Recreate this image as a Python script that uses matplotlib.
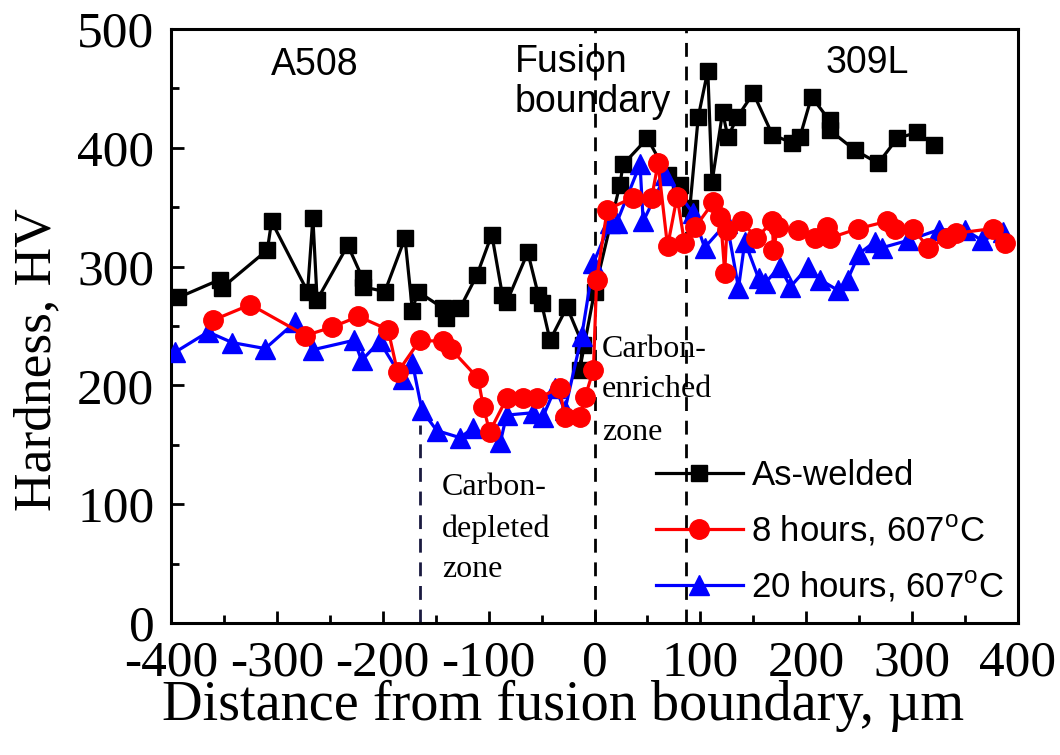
import matplotlib
matplotlib.use("Agg")
import matplotlib.pyplot as plt
from matplotlib.ticker import MultipleLocator

plt.rcParams['axes.unicode_minus'] = False
plt.rcParams['mathtext.fontset'] = 'custom'
plt.rcParams['mathtext.rm'] = 'Liberation Sans'

# ---------------- data ----------------
x_aswelded = [-393, -354, -352, -309, -305, -271, -266, -262, -233, -219, -219, -198,
              -179, -172, -167, -143, -140, -127, -111, -97, -87, -83, -63, -53, -50,
              -42, -26, -11, -14, 0, 24, 27, 50, 69, 81, 90, 98, 107, 111, 121, 126,
              135, 150, 168, 187, 194, 205, 222, 222, 246, 268, 286, 305, 321]
hv_aswelded = [274, 289, 282, 314, 338, 279, 341, 272, 318, 290, 283, 279,
               324, 263, 279, 265, 257, 265, 293, 327, 276, 270, 312, 276, 269,
               238, 266, 234, 213, 279, 369, 386, 408, 377, 369, 349, 426, 465, 371, 430, 409,
               426, 446, 411, 404, 409, 443, 423, 415, 398, 387, 408, 413, 402]

x_8h = [-360, -325, -273, -248, -223, -195, -186, -165, -143, -136, -110, -105, -99,
        -83, -68, -54, -33, -28, -14, -9, -1, 2, 12, 36, 54, 60, 69, 78, 85, 95,
        112, 119, 123, 125, 139, 153, 168, 169, 173, 192, 208, 220, 222, 249, 276,
        284, 301, 315, 333, 341, 376, 388]
hv_8h = [255, 268, 242, 249, 258, 247, 211, 238, 237, 231, 206, 182, 161,
         189, 189, 189, 198, 173, 173, 190, 213, 289, 348, 358, 358, 387, 317, 359, 320, 333,
         354, 342, 295, 331, 338, 324, 338, 314, 333, 331, 324, 333, 324, 332, 338,
         332, 332, 316, 324, 328, 332, 320]

x_20h = [-396, -365, -342, -311, -283, -266, -227, -220, -203, -181, -172, -163, -149,
         -127, -115, -89, -83, -58, -49, -37, -28, -12, -1, 15, 21, 43, 46, 67, 93,
         104, 125, 136, 142, 155, 161, 175, 185, 202, 213, 230, 239, 250, 265, 272,
         296, 325, 350, 366, 386]
hv_20h = [228, 245, 236, 231, 253, 230, 238, 221, 237, 205, 219, 179, 162,
          156, 164, 152, 175, 177, 173, 198, 179, 242, 303, 337, 337, 386, 338, 377, 345,
          316, 337, 282, 321, 290, 286, 300, 283, 300, 289, 280, 289, 311, 321, 316,
          322, 331, 331, 322, 329]

labels = ['As-welded', '8 hours, 607$^{\\rm o}$C', '20 hours, 607$^{\\rm o}$C']
x_ticks = [-400, -300, -200, -100, 0, 100, 200, 300, 400]
y_ticks = [0, 100, 200, 300, 400, 500]

# ---------------- figure ----------------
fig = plt.figure(figsize=(10.6, 7.55), dpi=100)
ax = fig.add_axes([171/1060, 1-623/755, (1018-171)/1060, (623-29)/755])

serif = 'Liberation Serif'
sans = 'Liberation Sans'

l1, = ax.plot(x_aswelded, hv_aswelded, color='black', marker='s', ms=12, lw=2.3,
              label=labels[0], zorder=3)
l3, = ax.plot(x_20h, hv_20h, color='#0000ff', marker='^', ms=15, lw=2.3,
              label=labels[2], zorder=4)
l2, = ax.plot(x_8h, hv_8h, color='#ff0000', marker='o', ms=14, lw=2.3,
              label=labels[1], zorder=5)

# dashed boundary lines
ds = (0, (5, 3.5))
ax.vlines([0, 86], 0, 500, colors='black', linestyles=[ds], lw=2, zorder=2)
ax.vlines([-165], 0, 167, colors='#1a1a40', linestyles=[ds], lw=2, zorder=2)

ax.set_xlim(-400, 400)
ax.set_ylim(0, 500)
ax.set_xticks(x_ticks)
ax.set_yticks(y_ticks)
ax.xaxis.set_minor_locator(MultipleLocator(50))
ax.yaxis.set_minor_locator(MultipleLocator(50))
ax.tick_params(which='major', direction='in', length=9, width=2, labelsize=37, pad=12)
ax.tick_params(which='minor', direction='in', length=5.5, width=2)
for lab in ax.get_xticklabels() + ax.get_yticklabels():
    lab.set_fontfamily(serif)
for s in ax.spines.values():
    s.set_linewidth(2.2)

ax.set_xlabel('Distance from fusion boundary, \u00b5m', fontsize=40.5, family=serif)
ax.set_ylabel('Hardness, HV', fontsize=38.5, family=serif)
ax.xaxis.set_label_coords(0.463, -0.096)
ax.yaxis.set_label_coords(-0.129, 0.443)

# region labels
ax.text(-264, 461, 'A508', fontsize=27, family=sans, ha='center', va='baseline')
ax.text(258, 463, '309L', fontsize=27, family=sans, ha='center', va='baseline')
ax.text(-75, 464, 'Fusion', fontsize=27, family=sans, ha='left', va='baseline')
ax.text(-75, 430, 'boundary', fontsize=27, family=sans, ha='left', va='baseline')

for txt, yy in zip(['Carbon-', 'enriched', 'zone'], [224, 190, 154]):
    ax.text(7, yy, txt, fontsize=23, family=serif, ha='left', va='baseline', zorder=6)
for txt, yy in zip(['Carbon-', 'depleted', 'zone'], [108, 72, 39]):
    ax.text(-144, yy, txt, fontsize=23, family=serif, ha='left', va='baseline', zorder=6)

leg = ax.legend(handles=[l1, l2, l3], loc='upper left',
                bbox_to_anchor=(656/1060, 1-459/755), bbox_transform=fig.transFigure,
                frameon=False, prop={'family': sans, 'size': 25},
                handlelength=2.5, handletextpad=0.25, labelspacing=0.6,
                borderpad=0, borderaxespad=0)

fig.savefig('out.png', dpi=100)
